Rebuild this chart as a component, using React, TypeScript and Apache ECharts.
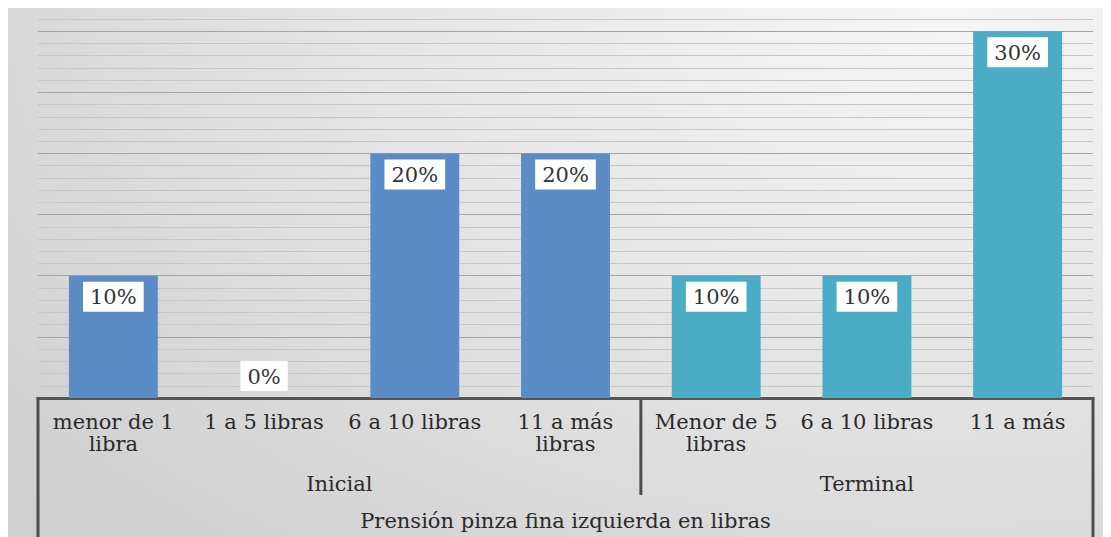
import React, { useEffect, useRef } from "react";
import * as echarts from "echarts";

const categories = [
  "menor de 1\nlibra",
  "1 a 5 libras",
  "6 a 10 libras",
  "11 a más\nlibras",
  "Menor de 5\nlibras",
  "6 a 10 libras",
  "11 a más",
];
const values = [10, 0, 20, 20, 10, 10, 30];
const groupNames = ["Inicial", "Terminal"];
const groupSizes = [4, 3];
const axisTitle = "Prensión pinza fina izquierda en libras";
const groupColors = ["#5B8CC5", "#4BACC6"];

const FONT = "DejaVu Serif";

export default function App() {
  const ref = useRef<HTMLDivElement>(null);
  useEffect(() => {
    document.documentElement.style.overflow = "hidden";
    const chart = echarts.init(ref.current!, null, { renderer: "svg" });
    const groupOf = (i: number) => {
      let acc = 0;
      for (let g = 0; g < groupSizes.length; g++) {
        acc += groupSizes[g];
        if (i < acc) return g;
      }
      return groupSizes.length - 1;
    };
    const data = values.map((v, i) => ({
      value: v,
      itemStyle: { color: groupColors[groupOf(i)] },
      label:
        v === 0
          ? { position: "top" as const, distance: 7 }
          : { position: "insideTop" as const, distance: 6 },
    }));
    chart.setOption({
      animation: false,
      backgroundColor: "transparent",
      grid: { left: 30, right: 18, top: 11, bottom: 139, containLabel: false },
      xAxis: {
        type: "category",
        data: categories,
        axisLine: { show: true, lineStyle: { color: "#555555", width: 3 } },
        axisTick: { show: false },
        axisLabel: {
          interval: 0,
          margin: 13,
          fontFamily: FONT,
          fontSize: 21,
          lineHeight: 22,
          color: "#2a2a2a",
        },
        splitLine: { show: false },
      },
      yAxis: {
        type: "value",
        min: 0,
        max: 31,
        interval: 1,
        axisLabel: { show: false },
        axisLine: { show: false },
        axisTick: { show: false },
        splitLine: {
          show: true,
          lineStyle: {
            color: ["#a4a4a4", "#c6c6c6", "#c6c6c6", "#c6c6c6", "#c6c6c6"],
            width: 1,
          },
        },
      },
      series: [
        {
          type: "bar",
          data,
          barWidth: "59%",
          label: {
            show: true,
            formatter: "{c}%",
            fontFamily: FONT,
            fontSize: 21,
            color: "#333333",
            backgroundColor: "#ffffff",
            padding: [5, 7, 4, 7],
          },
        },
      ],
    });

    const p = (i: number) => chart.convertToPixel({ xAxisIndex: 0 }, i) as number;
    const bw = p(1) - p(0);
    const axisY = chart.convertToPixel({ yAxisIndex: 0 }, 0) as number;
    const H = chart.getHeight();
    const bounds: number[] = [p(0) - bw / 2];
    let acc = 0;
    groupSizes.forEach((s) => {
      acc += s;
      bounds.push(p(acc - 1) + bw / 2);
    });
    const lineStyle = { stroke: "#4d4d4d", lineWidth: 3 };
    const graphics: any[] = [];
    bounds.forEach((x, k) => {
      const outer = k === 0 || k === bounds.length - 1;
      graphics.push({
        type: "line",
        shape: { x1: x, y1: axisY - 1, x2: x, y2: outer ? H : axisY + 97 },
        style: lineStyle,
        silent: true,
      });
    });
    groupNames.forEach((g, k) => {
      graphics.push({
        type: "text",
        x: (bounds[k] + bounds[k + 1]) / 2,
        y: axisY + 86,
        style: {
          text: g,
          fontFamily: FONT,
          fontSize: 21,
          fill: "#2a2a2a",
          align: "center",
          verticalAlign: "middle",
        },
      });
    });
    graphics.push({
      type: "text",
      x: (bounds[0] + bounds[bounds.length - 1]) / 2,
      y: axisY + 123,
      style: {
        text: axisTitle,
        fontFamily: FONT,
        fontSize: 21,
        fill: "#2a2a2a",
        align: "center",
        verticalAlign: "middle",
      },
    });
    chart.setOption({ graphic: graphics });
    return () => chart.dispose();
  }, []);
  return (
    <div
      ref={ref}
      style={{
        width: 1103,
        height: 529,
        background:
          "radial-gradient(ellipse 110% 140% at 85% 0%, #f6f6f6 0%, #e6e6e6 45%, #cfcfcf 100%)",
      }}
    />
  );
}
